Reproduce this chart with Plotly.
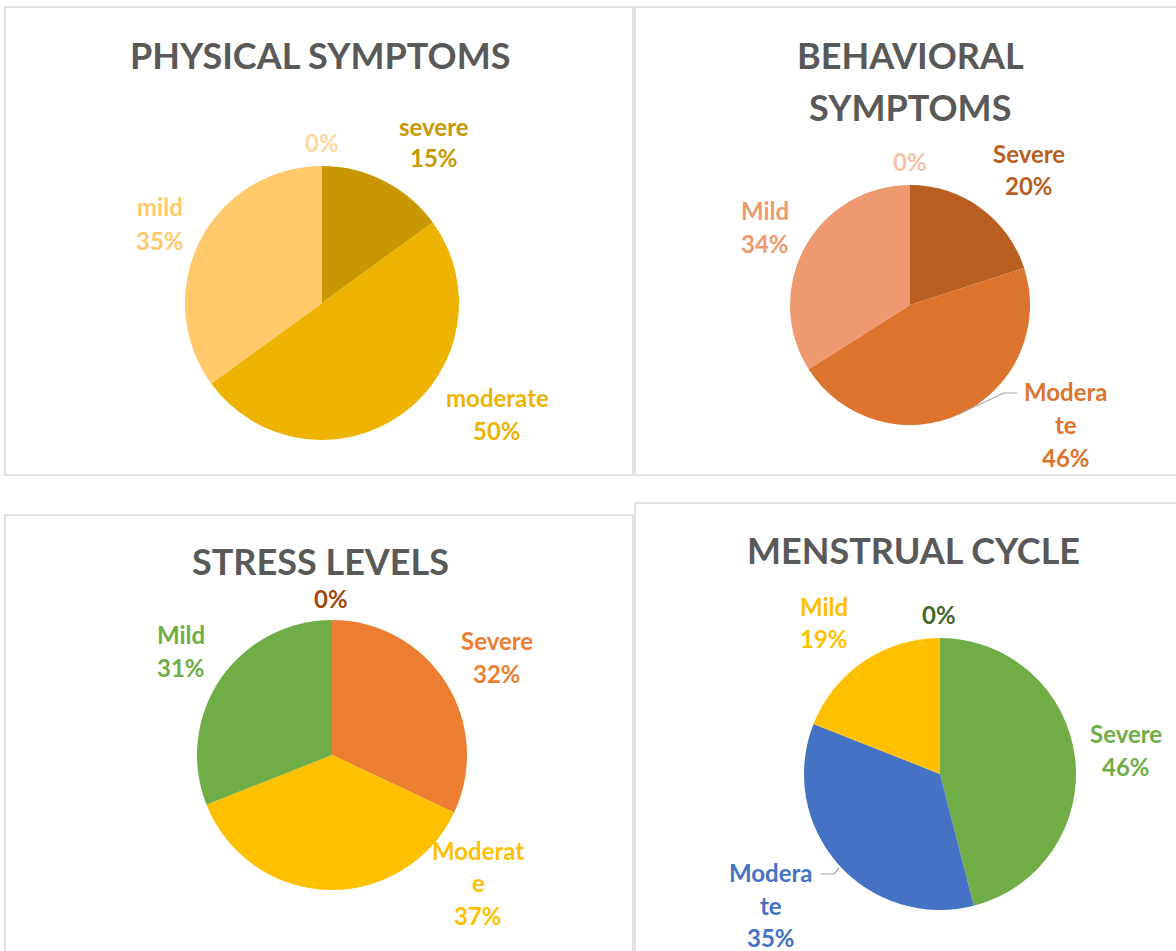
import plotly.graph_objects as go

W, H = 1176, 951

# ---------------- data ----------------
categories = ["Severe", "Moderate", "Mild", "Blank"]

physical_names = ["severe", "moderate", "mild", ""]
physical_values = [15, 50, 35, 0]

behavioral_names = ["Severe", "Moderate", "Mild", ""]
behavioral_values = [20, 46, 34, 0]

stress_names = ["Severe", "Moderate", "Mild", ""]
stress_values = [32, 37, 31, 0]

menstrual_names = ["Severe", "Moderate", "Mild", ""]
menstrual_values = [46, 35, 19, 0]

titles = ["PHYSICAL SYMPTOMS", "BEHAVIORAL<br>SYMPTOMS", "STRESS LEVELS", "MENSTRUAL CYCLE"]

# ---------------- styling ----------------
FONT = "Lato"
TITLE_COLOR = "#595959"
TITLE_SIZE = 36
LABEL_SIZE = 24

panels = [
    dict(names=physical_names, values=physical_values,
         colors=["#C99700", "#EEB300", "#FFC96C", "#FFD9A0"],
         center=(322, 303), r=137,
         box=(5, 7, 633, 475),
         title_pos=(320, [55]),
         labels=[(434, [126, 158], None), (497, [397, 430], None),
                 (160, [207, 240], None), (322, [143], None)],
         leaders=[]),
    dict(names=behavioral_names, values=behavioral_values,
         colors=["#B95F22", "#DD742D", "#EE996F", "#F5C2A9"],
         center=(910, 305), r=120,
         box=(635, 7, 1180, 475),
         title_pos=(910, [55, 107]),
         labels=[(1029, [153, 185], None), (1066, [391, 424, 457], ["Modera", "te"]),
                 (765, [211, 244], None), (910, [161], None)],
         leaders=[[(1017, 393), (1004, 393), (961, 413)]]),
    dict(names=stress_names, values=stress_values,
         colors=["#ED7D31", "#FFC000", "#70AD47", "#9E480E"],
         center=(332, 755), r=135,
         box=(5, 515, 633, 960),
         title_pos=(320, [561]),
         labels=[(497, [640, 673], None), (478, [850, 882, 915], ["Moderat", "e"]),
                 (181, [634, 667], None), (331, [598], None)],
         leaders=[]),
    dict(names=menstrual_names, values=menstrual_values,
         colors=["#70AD47", "#4472C4", "#FFC000", "#43682B"],
         center=(940, 774), r=136,
         box=(635, 503, 1180, 960),
         title_pos=(913, [550]),
         labels=[(1126, [733, 766], None), (771, [872, 905, 937], ["Modera", "te"]),
                 (824, [606, 638], None), (939, [614], None)],
         leaders=[[(821, 874), (834, 874), (839, 868)]]),
]


def px(x):
    return x / W


def py(y):
    return 1 - y / H


fig = go.Figure()
annotations = []
shapes = []

for i, p in enumerate(panels):
    cx, cy = p["center"]
    r = p["r"]
    fig.add_trace(go.Pie(
        labels=categories,
        values=p["values"],
        sort=False,
        direction="clockwise",
        rotation=0,
        textinfo="none",
        hoverinfo="label+percent",
        marker=dict(colors=p["colors"], line=dict(width=0)),
        domain=dict(x=[px(cx - r), px(cx + r)], y=[py(cy + r), py(cy - r)]),
        showlegend=False,
    ))

    # panel border
    x0, y0, x1, y1 = p["box"]
    shapes.append(dict(type="rect", xref="paper", yref="paper",
                       x0=px(x0), x1=px(x1), y0=py(y1), y1=py(y0),
                       line=dict(color="#D9D9D9", width=1.5), fillcolor="rgba(0,0,0,0)",
                       layer="below"))

    # title
    tx, tys = p["title_pos"]
    for line, ty in zip(titles[i].split("<br>"), tys):
        annotations.append(dict(text=f"<b>{line}</b>", x=px(tx), y=py(ty),
                                xref="paper", yref="paper", showarrow=False,
                                xanchor="center", yanchor="middle", borderpad=0,
                                font=dict(family=FONT, size=TITLE_SIZE, color=TITLE_COLOR)))

    # data labels
    total = sum(p["values"])
    for k, (lx, lys, wrapped) in enumerate(p["labels"]):
        name = p["names"][k]
        pct = f"{round(100 * p['values'][k] / total)}%"
        lines = (wrapped if wrapped else ([name] if name else [])) + [pct]
        for line, ly in zip(lines, lys):
            annotations.append(dict(text=f"<b>{line}</b>", x=px(lx), y=py(ly),
                                    xref="paper", yref="paper", showarrow=False,
                                    xanchor="center", yanchor="middle", borderpad=0,
                                    font=dict(family=FONT, size=LABEL_SIZE, color=p["colors"][k])))

    for pts in p["leaders"]:
        path = "M " + " L ".join(f"{px(a)},{py(b)}" for a, b in pts)
        shapes.append(dict(type="path", xref="paper", yref="paper", path=path,
                           line=dict(color="#A6A6A6", width=1.2)))

fig.update_layout(
    width=W, height=H,
    autosize=False,
    margin=dict(l=0, r=0, t=0, b=0),
    paper_bgcolor="white",
    plot_bgcolor="white",
    annotations=annotations,
    shapes=shapes,
    font=dict(family=FONT),
)

fig.write_html("out.html",
               config={"displayModeBar": False},
               post_script="document.body.style.margin='0';document.body.style.overflow='hidden';")
